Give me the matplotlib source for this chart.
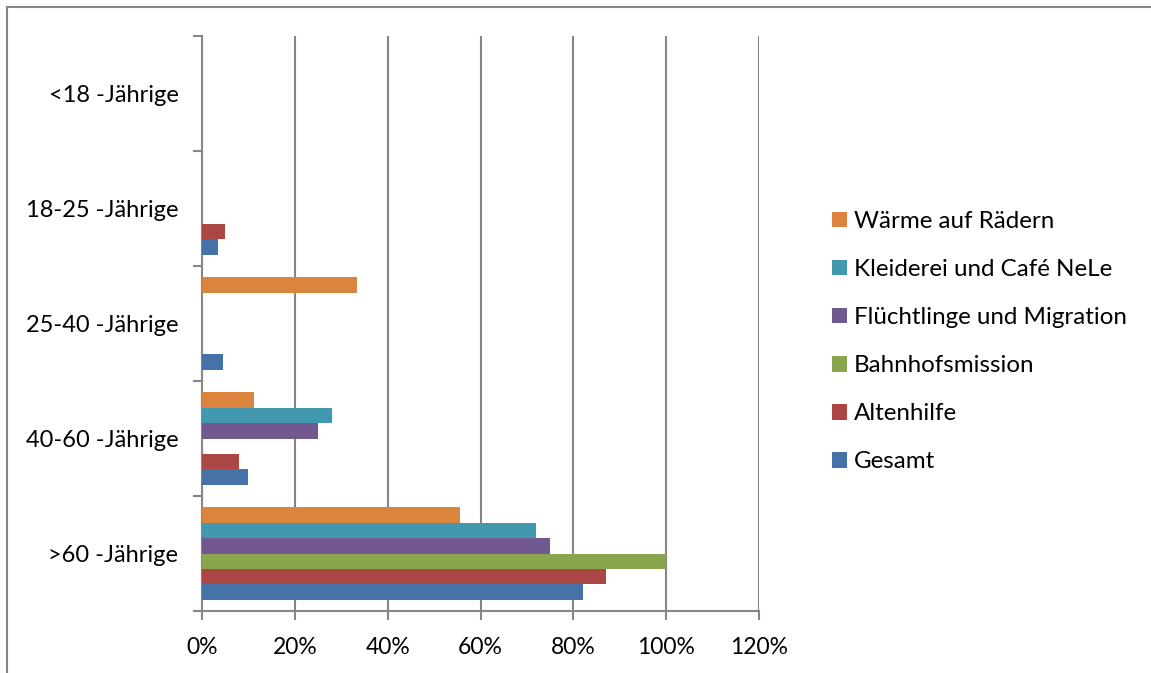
import matplotlib
matplotlib.use("Agg")
import matplotlib.pyplot as plt
from matplotlib.patches import Patch
from matplotlib.lines import Line2D
from matplotlib.ticker import FixedLocator, FuncFormatter

plt.rcParams['font.family'] = ['Lato', 'DejaVu Sans']

# Age groups, bottom to top
categories = [">60 -Jährige", "40-60 -Jährige", "25-40 -Jährige", "18-25 -Jährige", "<18 -Jährige"]

# Shares per service (fraction of clients), same order as categories
gesamt = [0.82, 0.10, 0.045, 0.034, 0.0]
altenhilfe = [0.87, 0.08, 0.0, 0.05, 0.0]
bahnhofsmission = [1.00, 0.0, 0.0, 0.0, 0.0]
fluechtlinge = [0.75, 0.25, 0.0, 0.0, 0.0]
kleiderei = [0.72, 0.28, 0.0, 0.0, 0.0]
waerme = [0.556, 0.111, 0.333, 0.0, 0.0]

series_names = ["Gesamt", "Altenhilfe", "Bahnhofsmission",
                "Flüchtlinge und Migration", "Kleiderei und Café NeLe",
                "Wärme auf Rädern"]
series_values = [gesamt, altenhilfe, bahnhofsmission, fluechtlinge, kleiderei, waerme]
colors = ["#4572A7", "#AA4643", "#89A54E", "#71588F", "#4198AF", "#DB843D"]

x_ticks = [0, 0.2, 0.4, 0.6, 0.8, 1.0, 1.2]

W, H = 1151, 673
fig = plt.figure(figsize=(W / 100, H / 100), dpi=100)
ax = fig.add_axes([202 / W, 1 - 611 / H, (759 - 202) / W, (611 - 36) / H])

grey = "#868686"
n = len(series_names)
bar_h = 0.134
ypos = list(range(len(categories)))
for k, (name, vals, c) in enumerate(zip(series_names, series_values, colors)):
    offs = (k - (n - 1) / 2) * bar_h
    ax.barh([y + offs for y in ypos], vals, height=bar_h, color=c,
            linewidth=0, label=name, zorder=3)

ax.set_xlim(0, 1.2)
ax.set_ylim(-0.5, len(categories) - 0.5)

# vertical gridlines
ax.xaxis.set_major_locator(FixedLocator(x_ticks))
ax.xaxis.set_major_formatter(FuncFormatter(lambda v, p: f"{v * 100:.0f}%"))
ax.grid(axis="x", color=grey, linewidth=1.5, zorder=0)
ax.set_axisbelow(True)

# y axis: ticks at category borders, labels centred between them
ax.yaxis.set_major_locator(FixedLocator([i - 0.5 for i in range(len(categories) + 1)]))
ax.yaxis.set_major_formatter(FuncFormatter(lambda v, p: ""))
ax.yaxis.set_minor_locator(FixedLocator(ypos))
ax.set_yticklabels(categories, minor=True)
ax.tick_params(axis="y", which="major", direction="out", length=6.5, width=1.5, color=grey)
ax.tick_params(axis="y", which="minor", length=0, pad=17, labelsize=17)
ax.tick_params(axis="x", which="major", direction="out", length=6.5, width=1.5, color=grey,
               pad=12.5, labelsize=16.5)

for s in ["top", "right"]:
    ax.spines[s].set_visible(False)
for s in ["left", "bottom"]:
    ax.spines[s].set_color(grey)
    ax.spines[s].set_linewidth(1.5)

# legend, top entry first
handles = [Patch(facecolor=c, edgecolor="none") for c in colors][::-1]
labels = series_names[::-1]
fig.legend(handles, labels, loc="upper left", bbox_to_anchor=(832 / W, 1 - 211 / H),
           frameon=False, fontsize=17.4, handlelength=0.62, handleheight=0.62,
           handletextpad=0.28, labelspacing=1.12, borderpad=0, borderaxespad=0)

# chart frame (top and left edges)
fig.add_artist(Line2D([6.5 / W, 1], [1 - 6.5 / H, 1 - 6.5 / H], color=grey, linewidth=1.5,
                      transform=fig.transFigure))
fig.add_artist(Line2D([6.5 / W, 6.5 / W], [0, 1 - 6.5 / H], color=grey, linewidth=1.5,
                      transform=fig.transFigure))

fig.savefig("out.png", dpi=100, facecolor="white")
